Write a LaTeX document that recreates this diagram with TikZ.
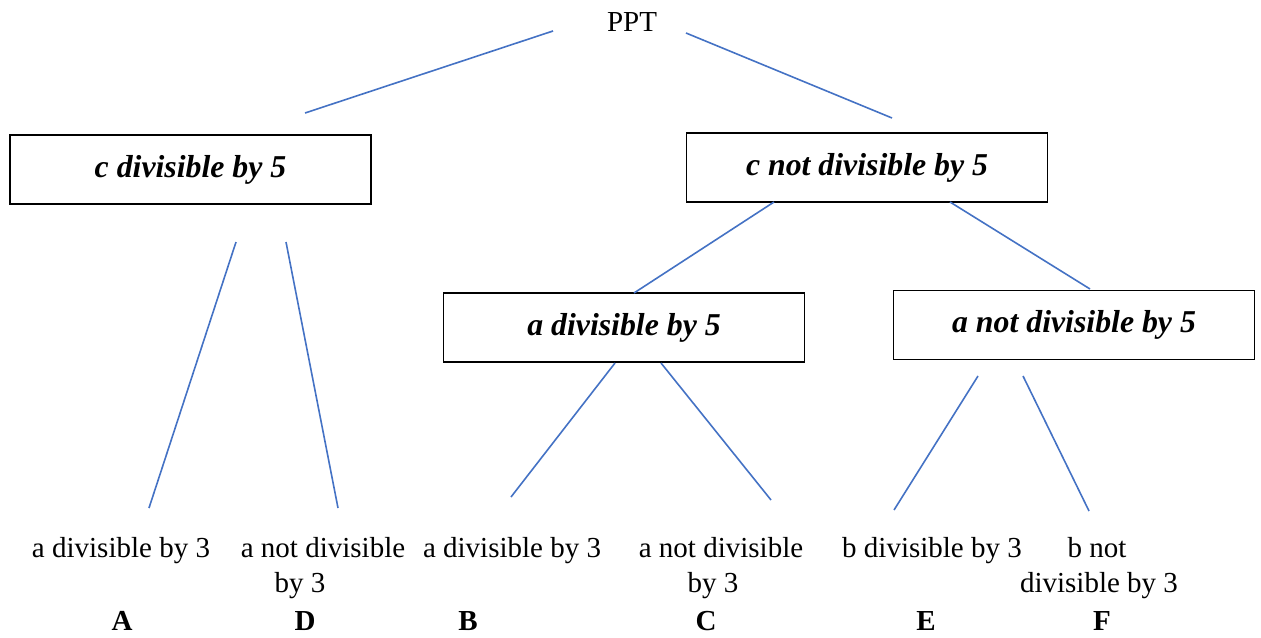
\documentclass[tikz,border=0pt]{standalone}
\usepackage{fontspec}
\setmainfont{Liberation Serif}
\definecolor{linkblue}{HTML}{4472C4}
\begin{document}
\begin{tikzpicture}[x=0.5pt,y=-0.5pt,
  branch/.style={draw=linkblue, line width=0.8pt},
  box/.style={draw=black, line width=0.6pt, minimum width=180.5pt,
    minimum height=34.5pt, inner sep=0pt,
    font=\fontsize{15.9}{19}\selectfont\bfseries\itshape},
  leaf/.style={anchor=base, inner sep=0pt, font=\fontsize{14.5}{17}\selectfont},
  tag/.style={anchor=base, inner sep=0pt, font=\fontsize{14.5}{17}\selectfont\bfseries}]
\useasboundingbox (0,0) rectangle (1261,637);

% root
\node[leaf] (root) at (632,32) {PPT};

% decision boxes
\node[box] (c5)  at (190.5,169.5) {c divisible by 5};
\node[box] (cn5) at (867,167.5)   {c not divisible by 5};
\node[box] (a5)  at (624,327.5)   {a divisible by 5};
\node[box] (an5) at (1074,325)    {a not divisible by 5};

% leaves
\node[leaf] (l1)  at (121,557) {a divisible by 3};
\node[leaf] (l2a) at (323,557) {a not divisible};
\node[leaf] (l2b) at (300,592) {by 3};
\node[leaf] (l3)  at (512,557) {a divisible by 3};
\node[leaf] (l4a) at (721,557) {a not divisible};
\node[leaf] (l4b) at (713,592) {by 3};
\node[leaf] (l5)  at (932,557) {b divisible by 3};
\node[leaf] (l6a) at (1097,557) {b not};
\node[leaf] (l6b) at (1099,592) {divisible by 3};

% case letters
\node[tag] (tA) at (122,630) {A};
\node[tag] (tD) at (305,630) {D};
\node[tag] (tB) at (468,630) {B};
\node[tag] (tC) at (706,630) {C};
\node[tag] (tE) at (926,630) {E};
\node[tag] (tF) at (1102,630) {F};

% end points of the branches
\coordinate (p1s) at (553,31);  \coordinate (p1e) at (305,113);
\coordinate (p2s) at (686,33);  \coordinate (p2e) at (892,118);
\coordinate (b1s) at (236,242); \coordinate (b1e) at (149,508);
\coordinate (b2s) at (286,242); \coordinate (b2e) at (338,508);
\coordinate (b3s) at (774,202); \coordinate (b3e) at (634,293);
\coordinate (b4s) at (950,202); \coordinate (b4e) at (1090,289);
\coordinate (b5s) at (615,363); \coordinate (b5e) at (511,497);
\coordinate (b6s) at (661,363); \coordinate (b6e) at (771,500);
\coordinate (b7s) at (978,376); \coordinate (b7e) at (894,510);
\coordinate (b8s) at (1023,376); \coordinate (b8e) at (1089,511);

% branches
\draw[branch] (p1s) -- (p1e);
\draw[branch] (p2s) -- (p2e);
\draw[branch] (b1s) -- (b1e);
\draw[branch] (b2s) -- (b2e);
\draw[branch] (b3s) -- (b3e);
\draw[branch] (b4s) -- (b4e);
\draw[branch] (b5s) -- (b5e);
\draw[branch] (b6s) -- (b6e);
\draw[branch] (b7s) -- (b7e);
\draw[branch] (b8s) -- (b8e);
\end{tikzpicture}
\end{document}
